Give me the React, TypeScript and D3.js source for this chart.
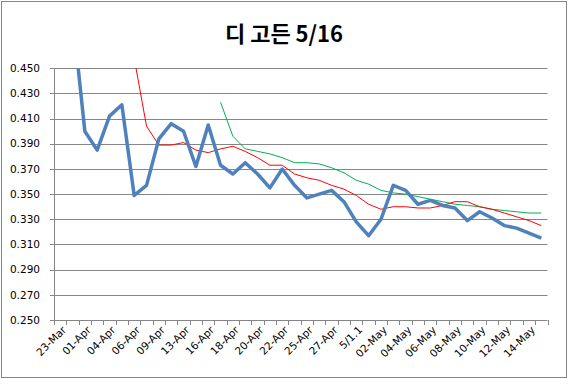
import React from "react";
import * as d3 from "d3";

const categories = [
  "23-Mar", "30-Mar", "01-Apr", "02-Apr", "04-Apr", "05-Apr", "06-Apr", "08-Apr",
  "09-Apr", "11-Apr", "13-Apr", "15-Apr", "16-Apr", "17-Apr", "18-Apr", "19-Apr",
  "20-Apr", "21-Apr", "22-Apr", "23-Apr", "25-Apr", "26-Apr", "27-Apr", "29-Apr",
  "5/1.1", "5/1.2", "02-May", "03-May", "04-May", "05-May", "06-May", "07-May",
  "08-May", "09-May", "10-May", "11-May", "12-May", "13-May", "14-May", "15-May",
];

const average: (number | null)[] = [
  0.5, 0.493, 0.4, 0.385, 0.412, 0.421, 0.349, 0.357, 0.394, 0.406,
  0.4, 0.372, 0.405, 0.373, 0.366, 0.375, 0.366, 0.355, 0.37, 0.357,
  0.347, 0.35, 0.353, 0.344, 0.328, 0.317, 0.33, 0.357, 0.353, 0.342,
  0.345, 0.341, 0.339, 0.329, 0.336, 0.331, 0.325, 0.323, 0.319, 0.315,
];

const shortAvg: (number | null)[] = [
  null, null, null, null, null, null, 0.458, 0.404, 0.389, 0.389,
  0.391, 0.385, 0.383, 0.386, 0.388, 0.384, 0.379, 0.373, 0.373, 0.366,
  0.363, 0.361, 0.357, 0.354, 0.349, 0.342, 0.338, 0.34, 0.34, 0.339,
  0.339, 0.341, 0.344, 0.344, 0.34, 0.338, 0.335, 0.332, 0.329, 0.325,
];

const longAvg: (number | null)[] = [
  null, null, null, null, null, null, null, null, null, null,
  null, null, null, 0.423, 0.396, 0.386, 0.384, 0.382, 0.379, 0.375,
  0.375, 0.374, 0.371, 0.367, 0.361, 0.358, 0.353, 0.351, 0.35, 0.348,
  0.346, 0.344, 0.342, 0.341, 0.34, 0.338, 0.337, 0.336, 0.335, 0.335,
];

const yTicks = [0.25, 0.27, 0.29, 0.31, 0.33, 0.35, 0.37, 0.39, 0.41, 0.43, 0.45];

const W = 568;
const H = 379;
const left = 54;
const right = 547.5;
const top = 68.3;
const bottom = 320;

export default function App() {
  const x = d3.scaleBand<number>().domain(d3.range(categories.length)).range([left, right]).padding(0);
  const y = d3.scaleLinear().domain([0.25, 0.45]).range([bottom, top]);
  const cx = (i: number) => (x(i) as number) + x.bandwidth() / 2;

  const line = d3
    .line<number | null>()
    .defined((d) => d !== null)
    .x((_, i) => cx(i))
    .y((d) => y(d as number));

  const axisFont = "'DejaVu Sans', sans-serif";

  return (
    <svg width={W} height={H} style={{ position: "absolute", left: 0, top: 0 }}>
      <defs>
        <clipPath id="plot">
          <rect x={left} y={top} width={right - left} height={bottom - top} />
        </clipPath>
      </defs>
      <rect x={0} y={0} width={W} height={H} fill="#fff" />
      <rect x={1.5} y={1.5} width={565} height={376} fill="none" stroke="#868686" strokeWidth={1} />
      <text
        x={284}
        y={42}
        textAnchor="middle"
        fontFamily="'Noto Sans CJK KR', sans-serif"
        fontWeight="bold"
        fontSize={22}
        fill="#000"
      >
        디 고든 5/16
      </text>

      {yTicks.map((t) => (
        <g key={t}>
          {t > 0.25 && (
            <line x1={left} x2={right} y1={Math.round(y(t)) + 0.5} y2={Math.round(y(t)) + 0.5} stroke="#868686" strokeWidth={1} />
          )}
          <line x1={left - 4} x2={left} y1={Math.round(y(t)) + 0.5} y2={Math.round(y(t)) + 0.5} stroke="#868686" />
          <text x={40} y={y(t)} dy="0.35em" textAnchor="end" fontFamily={axisFont} fontSize={10.5} fill="#000">
            {d3.format(".3f")(t)}
          </text>
        </g>
      ))}

      <line x1={left + 0.5} x2={left + 0.5} y1={top} y2={bottom} stroke="#868686" />
      <line x1={left} x2={right} y1={Math.round(bottom) + 0.5} y2={Math.round(bottom) + 0.5} stroke="#868686" />
      {d3.range(categories.length + 1).map((i) => {
        const xx = i < categories.length ? (x(i) as number) : right;
        return (
          <line key={i} x1={Math.round(xx) + 0.5} x2={Math.round(xx) + 0.5} y1={bottom} y2={bottom + 5} stroke="#868686" />
        );
      })}
      {categories.map((c, i) =>
        i % 2 === 0 ? (
          <text
            key={c}
            transform={`translate(${cx(i) + 4},${bottom + 8}) rotate(-45)`}
            textAnchor="end"
            dy="0.35em"
            fontFamily={axisFont}
            fontSize={10.5}
            fill="#000"
          >
            {c}
          </text>
        ) : null
      )}

      <g clipPath="url(#plot)">
        <path d={line(longAvg) || ""} fill="none" stroke="#00B050" strokeWidth={1} />
        <path d={line(shortAvg) || ""} fill="none" stroke="#FF0000" strokeWidth={1} />
        <path d={line(average) || ""} fill="none" stroke="#4F81BD" strokeWidth={3.5} strokeLinejoin="round" />
      </g>
    </svg>
  );
}
